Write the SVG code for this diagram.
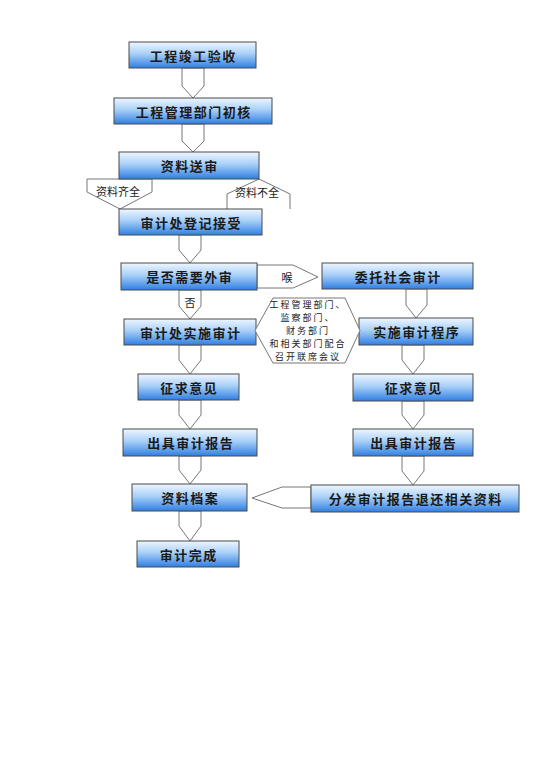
<svg xmlns="http://www.w3.org/2000/svg" width="554" height="783" viewBox="0 0 554 783">
<defs>
<linearGradient id="g" x1="0" y1="0" x2="0" y2="1">
<stop offset="0" stop-color="#eef6ff"/>
<stop offset="0.45" stop-color="#a9d0f8"/>
<stop offset="1" stop-color="#2f7fe3"/>
</linearGradient>
<style>
.box{fill:url(#g);stroke:#4a4a4a;stroke-width:1}
.t{font-family:"Noto Sans CJK SC","Noto Sans",sans-serif;font-size:13px;font-weight:bold;fill:#1a1a1a;text-anchor:middle;dominant-baseline:central;letter-spacing:1.5px}
.arr{fill:#fff;stroke:#777;stroke-width:1;stroke-linejoin:miter}
.s{font-family:"Noto Sans CJK SC","Noto Sans",sans-serif;font-size:11px;fill:#222;text-anchor:middle;dominant-baseline:central}
.h{font-family:"Noto Sans CJK SC","Noto Sans",sans-serif;font-size:9px;fill:#222;text-anchor:middle;dominant-baseline:central;letter-spacing:2px}
</style>
</defs>
<rect width="554" height="783" fill="#fff"/>
<g id="connectors">
<polygon class="arr" points="182,68 204,68 204,86 193,98 182,86"/>
<polygon class="arr" points="182,124 204,124 204,141 193,152 182,141"/>
<polygon class="arr" points="87,179 152,179 152,192 120,209 87,192"/>
<text class="s" x="118" y="191">资料齐全</text>
<path class="arr" d="M227,209 L227,194 L259,179 L290,194 L290,209"/>
<text class="s" x="257" y="192">资料不全</text>
<polygon class="arr" points="179,235 201,235 201,250 190,263 179,250"/>
<polygon class="arr" points="257,265 293,265 318,277 293,288 257,288"/>
<text class="s" x="287" y="277">喉</text>
<polygon class="arr" points="179,290 201,290 201,306 190,319 179,306"/>
<text class="s" x="190" y="302">否</text>
<polygon class="arr" points="406,289 427,289 427,305 416,318 406,305"/>
<polygon class="arr" points="179,345 201,345 201,360 190,374 179,360"/>
<polygon class="arr" points="402,345 424,345 424,360 413,374 402,360"/>
<polygon class="arr" points="179,400 201,400 201,415 190,429 179,415"/>
<polygon class="arr" points="402,401 424,401 424,415 413,429 402,415"/>
<polygon class="arr" points="179,456 201,456 201,470 190,484 179,470"/>
<polygon class="arr" points="402,456 424,456 424,471 413,485 402,471"/>
<polygon class="arr" points="179,511 201,511 201,526 190,541 179,526"/>
<polygon class="arr" points="311,487 282,487 252,498 282,508 311,508"/>
</g>
<g id="n1"><rect class="box" x="129" y="42" width="127" height="26"/><text class="t" x="193.3" y="55">工程竣工验收</text></g>
<g id="n2"><rect class="box" x="114" y="98" width="158" height="26"/><text class="t" x="193.8" y="111">工程管理部门初核</text></g>
<g id="n3"><rect class="box" x="119" y="152" width="140" height="27"/><text class="t" x="189.8" y="165.5">资料送审</text></g>
<g id="n4"><rect class="box" x="119" y="209" width="143" height="26"/><text class="t" x="191.3" y="222">审计处登记接受</text></g>
<g id="n5"><rect class="box" x="121" y="263" width="136" height="27"/><text class="t" x="189.8" y="276.5">是否需要外审</text></g>
<g id="n6"><rect class="box" x="322" y="263" width="151" height="26"/><text class="t" x="398.3" y="276">委托社会审计</text></g>
<g id="n7"><rect class="box" x="359" y="318" width="114" height="27"/><text class="t" x="416.8" y="331.5">实施审计程序</text></g>
<g id="n8"><rect class="box" x="124" y="319" width="132" height="26"/><text class="t" x="190.8" y="332">审计处实施审计</text></g>
<g id="n9"><polygon fill="#fff" stroke="#777" points="255,330.5 273,298 345,298 360,330.5 345,363 273,363"/>
<text class="h" x="308" y="304">工程管理部门、</text>
<text class="h" x="308" y="317.1">监察部门、</text>
<text class="h" x="308" y="330.2">财务部门</text>
<text class="h" x="308" y="343.3">和相关部门配合</text>
<text class="h" x="308" y="356.4">召开联席会议</text></g>
<g id="n10"><rect class="box" x="138" y="374" width="101" height="26"/><text class="t" x="189.3" y="387">征求意见</text></g>
<g id="n11"><rect class="box" x="123" y="429" width="134" height="27"/><text class="t" x="190.8" y="442.5">出具审计报告</text></g>
<g id="n12"><rect class="box" x="132" y="484" width="115" height="27"/><text class="t" x="190.3" y="497.5">资料档案</text></g>
<g id="n13"><rect class="box" x="137" y="541" width="102" height="26"/><text class="t" x="188.8" y="554">审计完成</text></g>
<g id="n14"><rect class="box" x="353" y="374" width="120" height="27"/><text class="t" x="413.8" y="387.5">征求意见</text></g>
<g id="n15"><rect class="box" x="353" y="429" width="120" height="27"/><text class="t" x="413.8" y="442.5">出具审计报告</text></g>
<g id="n16"><rect class="box" x="311" y="485" width="208" height="27"/><text class="t" x="415.8" y="498.5">分发审计报告退还相关资料</text></g>
</svg>
